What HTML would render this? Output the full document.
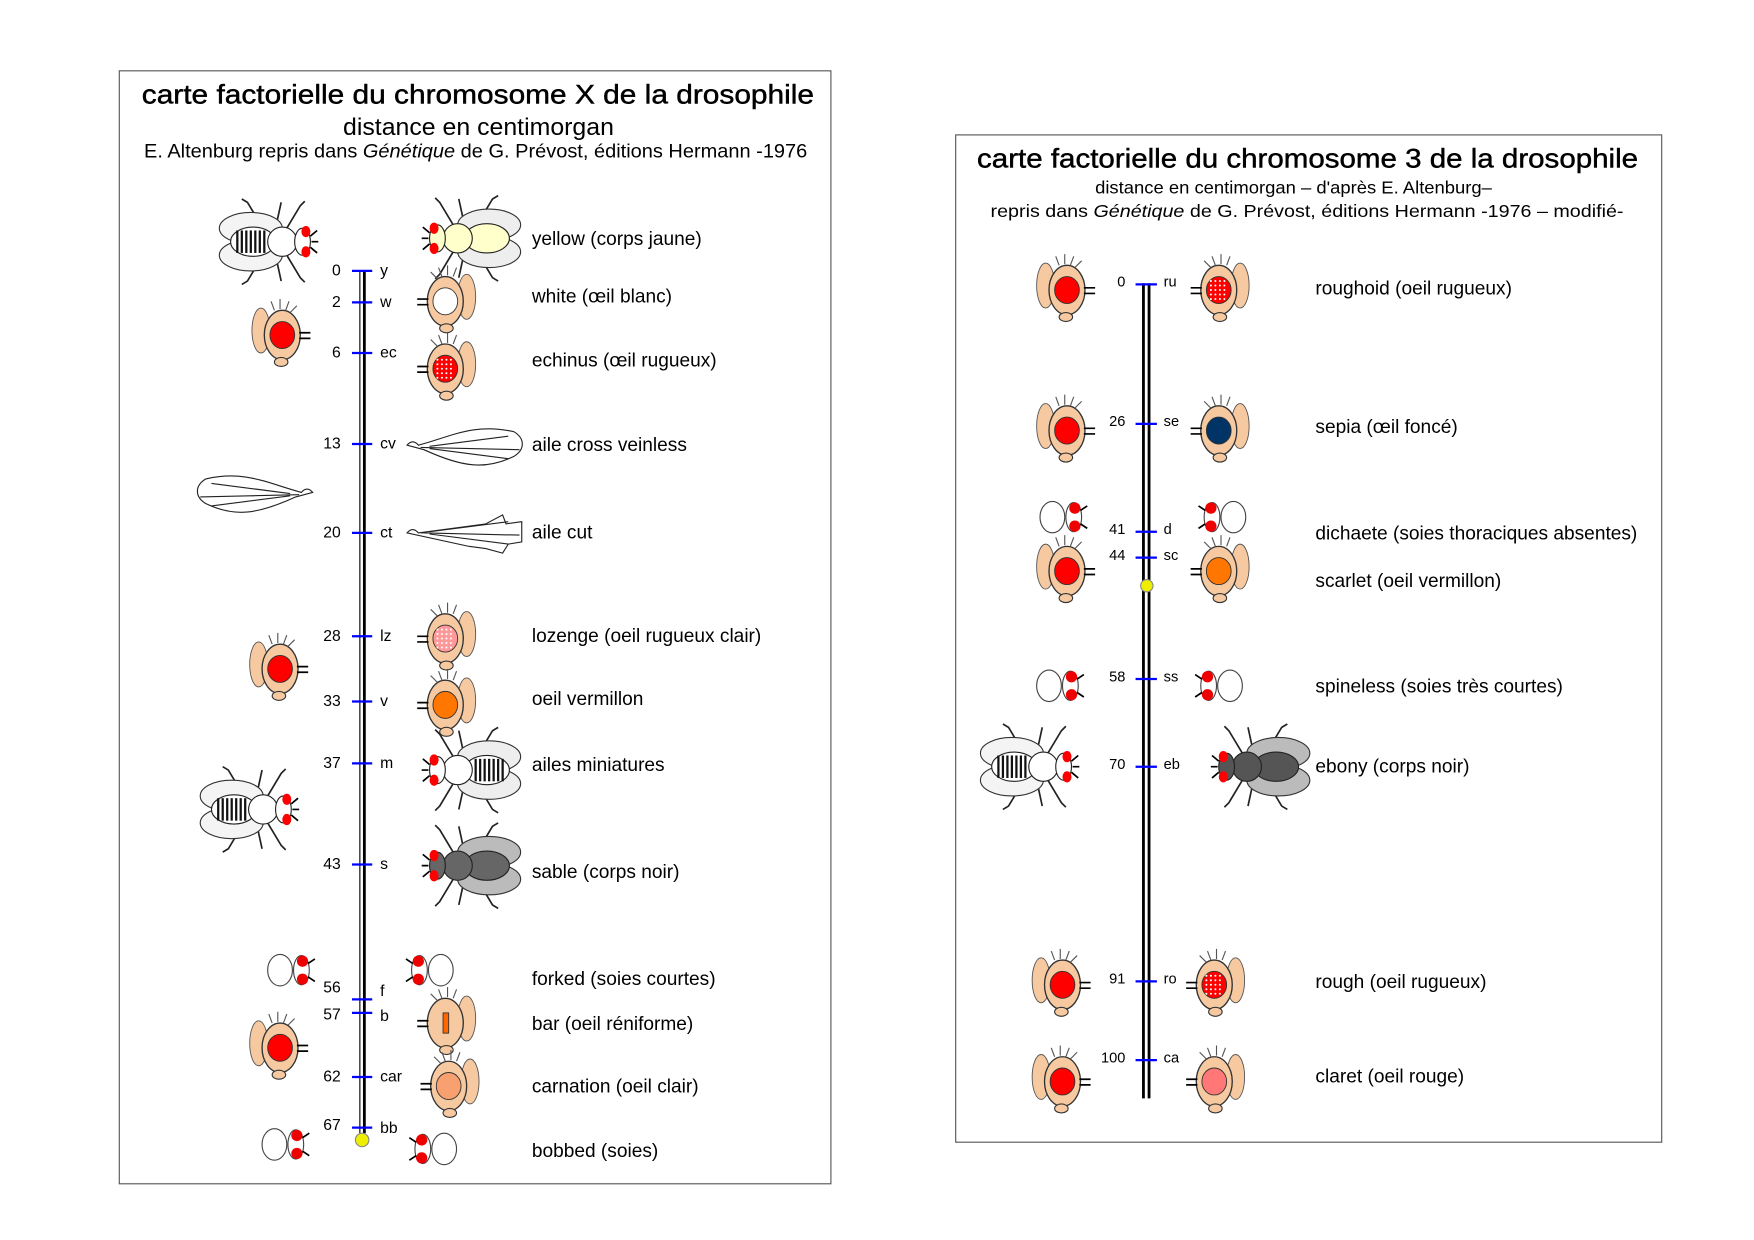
<!DOCTYPE html>
<html><head><meta charset="utf-8">
<style>
html,body{margin:0;padding:0;background:#fff;}
svg{display:block;}
text{font-family:"Liberation Sans",sans-serif;fill:#000;}
</style></head>
<body>
<svg id="s" width="1754" height="1240" viewBox="0 0 1560 1103" xmlns="http://www.w3.org/2000/svg">
<rect x="0" y="0" width="1560" height="1103" fill="#fff"/>
<rect x="106" y="63" width="633" height="990" fill="none" stroke="#555" stroke-width="1"/>
<rect x="850" y="120" width="628" height="896" fill="none" stroke="#555" stroke-width="1"/>

<text x="126" y="92" font-size="24" textLength="598" lengthAdjust="spacingAndGlyphs" stroke="#000" stroke-width="0.4">carte factorielle du chromosome X de la drosophile</text>
<text x="305" y="120" font-size="21" textLength="241" lengthAdjust="spacingAndGlyphs" fill="#222">distance en centimorgan</text>
<text x="128" y="140" font-size="17" textLength="590" lengthAdjust="spacingAndGlyphs">E. Altenburg repris dans <tspan font-style="italic">Génétique</tspan> de G. Prévost, éditions Hermann -1976</text>

<text x="869" y="149" font-size="24" textLength="588" lengthAdjust="spacingAndGlyphs" stroke="#000" stroke-width="0.4">carte factorielle du chromosome 3 de la drosophile</text>
<text x="974" y="172" font-size="16" textLength="353" lengthAdjust="spacingAndGlyphs">distance en centimorgan – d'après E. Altenburg–</text>
<text x="881" y="193" font-size="16" textLength="563" lengthAdjust="spacingAndGlyphs">repris dans <tspan font-style="italic">Génétique</tspan> de G. Prévost, éditions Hermann -1976 – modifié-</text>

<g id="g"></g>
</svg>
<script>
var g=document.getElementById('g');
var out='';
function t(x,y,s,size,anchor){out+='<text x="'+x+'" y="'+y+'" font-size="'+(size||15)+'"'+(anchor?' text-anchor="'+anchor+'"':'')+'>'+s+'</text>';}
out+='<line x1="320" y1="241" x2="320" y2="1008" stroke="#000" stroke-width="1"/><line x1="324" y1="241" x2="324" y2="1008" stroke="#000" stroke-width="2.5"/>';
out+='<line x1="1017" y1="252" x2="1017" y2="977" stroke="#000" stroke-width="2.5"/><line x1="1022" y1="252" x2="1022" y2="977" stroke="#000" stroke-width="2.5"/>';
var L=[[0,241,'y'],[2,269,'w'],[6,314,'ec'],[13,395,'cv'],[20,474,'ct'],[28,566,'lz'],[33,624,'v'],[37,679,'m'],[43,769,'s'],[56,889,'f'],[57,901,'b'],[62,958,'car'],[67,1003,'bb']];
L.forEach(function(a){out+='<line x1="313" y1="'+a[1]+'" x2="331" y2="'+a[1]+'" stroke="#00f" stroke-width="2"/>';
 var ny=a[1]+4, ly=a[1]+4; if(a[0]==56){ny=883;ly=886;} if(a[0]==57){ny=907;ly=908;} if(a[0]==67){ny=1005;ly=1008;}
 t(303,ny,a[0],14,'end');t(338,ly,a[2],14);});
out+='<circle cx="322" cy="1014" r="6" fill="#ee0" stroke="#888"/>';
var R=[[0,253,'ru'],[26,377,'se'],[41,473,'d'],[44,496,'sc'],[58,604,'ss'],[70,682,'eb'],[91,873,'ro'],[100,943,'ca']];
R.forEach(function(a){out+='<line x1="1010" y1="'+a[1]+'" x2="1029" y2="'+a[1]+'" stroke="#00f" stroke-width="2"/>';
 t(1001,a[1]+2,a[0],13,'end');t(1035,a[1]+2,a[2],13);});
out+='<circle cx="1020" cy="521" r="5.5" fill="#ee0" stroke="#888"/>';
[[218,'yellow (corps jaune)'],[269,'white (œil blanc)'],[326,'echinus (œil rugueux)'],[401,'aile cross veinless'],[479,'aile cut'],[571,'lozenge (oeil rugueux clair)'],[627,'oeil vermillon'],[686,'ailes miniatures'],[781,'sable (corps noir)'],[876,'forked (soies courtes)'],[916,'bar (oeil réniforme)'],[972,'carnation (oeil clair)'],[1029,'bobbed (soies)']].forEach(function(d){t(473,d[0],d[1],17);});
[[262,'roughoid (oeil rugueux)'],[385,'sepia (œil foncé)'],[480,'dichaete (soies thoraciques absentes)'],[522,'scarlet (oeil vermillon)'],[616,'spineless (soies très courtes)'],[687,'ebony (corps noir)'],[879,'rough (oeil rugueux)'],[963,'claret (oeil rouge)']].forEach(function(d){t(1170,d[0],d[1],17);});
function head(cx,cy,dir,eye,dots,bar){dir=-dir;var s='<g transform="translate('+cx+','+cy+') scale('+dir+',1)">';
 s+='<ellipse cx="-20" cy="-4" rx="8" ry="20" fill="#f6c9a0" stroke="#555" stroke-width="0.8"/>';
 s+='<ellipse cx="-1" cy="0" rx="16" ry="22" fill="#f6c9a0" stroke="#333" stroke-width="1.2"/>';
 s+='<ellipse cx="-2" cy="24" rx="6" ry="4" fill="#f6c9a0" stroke="#333"/>';
 s+='<path d="M-8,-22 l-3,-8 M-3,-23 l0,-9 M2,-22 l3,-8 M6,-20 l6,-6" stroke="#555" stroke-width="1"/>';
 s+='<path d="M14,-2 h10 M14,3 h10" stroke="#000" stroke-width="1.5"/>';
 if(bar){s+='<rect x="-4" y="-9" width="5" height="18" fill="#f60" stroke="#333" stroke-width="0.8"/>';}
 else s+='<ellipse cx="-1" cy="0" rx="11" ry="12" fill="'+eye+'" stroke="#333" stroke-width="0.8"/>';
 if(dots){for(var i=-6;i<=6;i+=4)for(var j=-8;j<=8;j+=4)s+='<circle cx="'+i+'" cy="'+j+'" r="0.9" fill="#fff"/>';}
 return s+'</g>';}
function fly(cx,cy,dir,body,wing){var s='<g transform="translate('+cx+','+cy+') scale('+dir+',1)">';
 s+='<path d="M-10,-10 L-25,-35 L-30,-38 M0,-12 L5,-35 M10,-12 L22,-32 L26,-36 M-10,10 L-25,35 L-30,38 M0,12 L5,35 M10,12 L22,32 L26,36" stroke="#222" stroke-width="1.5" fill="none"/>';
 s+='<ellipse cx="-22" cy="-12" rx="28" ry="14" fill="'+wing+'" stroke="#333" stroke-width="1"/>';
 s+='<ellipse cx="-22" cy="12" rx="28" ry="14" fill="'+wing+'" stroke="#333" stroke-width="1"/>';
 s+='<ellipse cx="-20" cy="0" rx="20" ry="13" fill="'+body+'" stroke="#222"/>';
 if(body=='#fff'){for(var i=-34;i<-8;i+=4)s+='<line x1="'+i+'" y1="-10" x2="'+i+'" y2="10" stroke="#111" stroke-width="2"/>';}
 s+='<ellipse cx="6" cy="0" rx="13" ry="13" fill="'+body+'" stroke="#222"/>';
 s+='<ellipse cx="24" cy="0" rx="7" ry="12" fill="'+body+'" stroke="#222"/>';
 s+='<ellipse cx="27" cy="-9" rx="4" ry="5" fill="#f00"/><ellipse cx="27" cy="9" rx="4" ry="5" fill="#f00"/>';
 s+='<path d="M31,-5 l6,-5 M31,5 l6,5 M32,0 h6" stroke="#000" stroke-width="1.5"/>';
 return s+'</g>';}
function bris(cx,cy,dir){var s='<g transform="translate('+cx+','+cy+') scale('+dir+',1)">';
 s+='<ellipse cx="-9" cy="0" rx="11" ry="14" fill="#fff" stroke="#444"/>';
 s+='<ellipse cx="10" cy="0" rx="7" ry="13" fill="#fff" stroke="#444"/>';
 s+='<ellipse cx="11" cy="-8" rx="5" ry="5" fill="#e00"/><ellipse cx="11" cy="8" rx="5" ry="5" fill="#e00"/>';
 s+='<path d="M16,-6 l6,-4 M16,6 l6,4" stroke="#000" stroke-width="1.5"/>';
 return s+'</g>';}
function wingI(cx,cy,dir,cut){var s='<g transform="translate('+cx+','+cy+') scale('+dir+',1)" fill="none" stroke="#222" stroke-width="1">';
 if(cut) s+='<path d="M-50,0 q5,-6 10,0 L20,-8 L35,-16 L38,-8 L52,-10 L52,8 L40,10 L35,18 L20,14 L5,12 Z"/>';
 else s+='<path d="M-50,-2 q5,-6 10,0 C-10,-10 10,-22 45,-14 C55,-8 55,2 45,8 C20,20 0,18 -35,2 Z"/>';
 s+='<path d="M-38,0 L50,2 M-30,-1 L40,-10 M-30,1 L40,10"/>';
 return s+'</g>';}
out+=fly(245,215,1,'#fff','#f4f4f4');out+=fly(413,212,-1,'#ffffcc','#eee');
out+=head(252,298,-1,'#f00');out+=head(395,268,1,'#fff');out+=head(395,328,1,'#f00',1);
out+=wingI(412,398,1);out+=wingI(228,440,-1);out+=wingI(412,474,1,1);
out+=head(395,568,1,'#f99',1);out+=head(250,595,-1,'#f00');out+=head(395,627,1,'#f70');
out+=fly(413,685,-1,'#fff','#eee');out+=fly(228,720,1,'#fff','#f4f4f4');out+=fly(413,770,-1,'#666','#bbb');
out+=bris(258,863,1);out+=bris(383,863,-1);out+=head(395,910,1,'#f00',0,1);out+=head(250,932,-1,'#f00');
out+=head(398,966,1,'#f8a070');out+=bris(253,1018,1);out+=bris(386,1022,-1);
out+=head(950,258,-1,'#f00');out+=head(1083,258,1,'#f00',1);
out+=head(950,383,-1,'#f00');out+=head(1083,383,1,'#036');
out+=bris(945,460,1);out+=bris(1088,460,-1);
out+=head(950,508,-1,'#f00');out+=head(1083,508,1,'#f70');
out+=bris(942,610,1);out+=bris(1085,610,-1);
out+=fly(922,682,1,'#fff','#f4f4f4');out+=fly(1115,682,-1,'#555','#bbb');
out+=head(946,876,-1,'#f00');out+=head(1079,876,1,'#f00',1);
out+=head(946,962,-1,'#f00');out+=head(1079,962,1,'#f77');
g.innerHTML=out;
</script>
</body></html>
